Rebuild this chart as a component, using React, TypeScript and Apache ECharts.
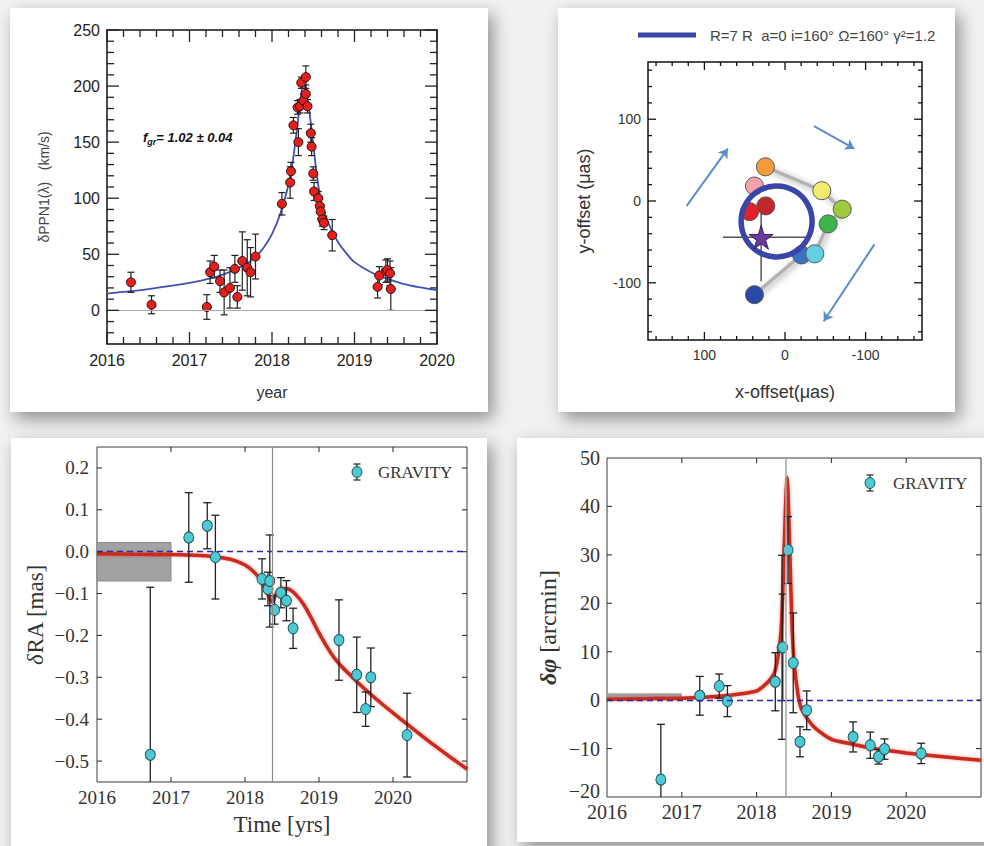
import React, { useEffect, useRef } from "react";
import * as echarts from "echarts";

// ---------------- Panel A (top-left): δPPN1(λ) vs year ----------------
const tlYears = [2016.29, 2016.54, 2017.21, 2017.25, 2017.3, 2017.37, 2017.42, 2017.49, 2017.55, 2017.58, 2017.64, 2017.7, 2017.74, 2017.8, 2018.12, 2018.22, 2018.23, 2018.26, 2018.32, 2018.31, 2018.34, 2018.355, 2018.38, 2018.41, 2018.41, 2018.43, 2018.47, 2018.48, 2018.5, 2018.51, 2018.56, 2018.58, 2018.59, 2018.61, 2018.63, 2018.73, 2019.28, 2019.3, 2019.38, 2019.4, 2019.43, 2019.44];
const tlValues = [25, 5, 3, 34, 39, 26, 16, 20, 37, 12, 44, 38, 34, 48, 95, 114, 124, 165, 150, 181, 182, 203, 187, 208, 193, 182, 158, 146, 122, 106, 100, 93, 88, 81, 78, 67, 21, 31, 35, 36, 33, 19];
const tlErrors = [9, 8, 11, 10, 10, 10, 20, 18, 12, 10, 26, 25, 22, 20, 10, 14, 8, 7, 12, 6, 6, 5, 6, 10, 8, 6, 8, 8, 6, 8, 6, 6, 6, 6, 6, 14, 10, 8, 10, 10, 11, 19];
const tlModelYears = [2016.0, 2016.5, 2017.0, 2017.3, 2017.5, 2017.7, 2017.8, 2017.9, 2018.0, 2018.1, 2018.2, 2018.25, 2018.3, 2018.35, 2018.38, 2018.4, 2018.45, 2018.5, 2018.55, 2018.6, 2018.7, 2018.8, 2018.9, 2019.0, 2019.2, 2019.4, 2019.6, 2019.8, 2020.0];
const tlModelValues = [15, 19, 24.5, 29.5, 34.5, 42, 47.5, 56, 68, 86, 112, 132, 160, 191, 201, 199, 179, 148, 117, 96, 75, 61, 51, 43, 34, 28, 23.5, 20.5, 18];
const tlXMajor = [2016, 2017, 2018, 2019, 2020];
const tlXMinor = [2016.2, 2016.4, 2016.6, 2016.8, 2017.2, 2017.4, 2017.6, 2017.8, 2018.2, 2018.4, 2018.6, 2018.8, 2019.2, 2019.4, 2019.6, 2019.8];
const tlYMajor = [0, 50, 100, 150, 200, 250];
const tlYMinor = [-20, -10, 10, 20, 30, 40, 60, 70, 80, 90, 110, 120, 130, 140, 160, 170, 180, 190, 210, 220, 230, 240];

// ---------------- Panel B (top-right): astrometric positions ----------------
const trX = [37.9, -20.5, -37, -53.5, -71, -45.7, 24.3, 37.9, 44, 23.8];
const trY = [-114.6, -65.9, -64.6, -28, -10, 12.6, 41.8, 18.3, -13, -6];
const trPathCount = 7;
const trColors = ["#2a48a6", "#3b72c4", "#62cfe2", "#3cb449", "#9ccb3b", "#f2ec6c", "#f39a3a", "#f4a2a9", "#e4202a", "#c1272d"];
const trStar = [29.6, -44.3];
const trStarXRange = [-30, 77];
const trStarYRange = [-98, -7];
const trRingCenter = [10.4, -25];
const trArrowFrom = [[122, -6], [-36, 91.5], [-111, -53]];
const trArrowTo = [[71, 64], [-86, 64], [-48, -147]];
const trMajor = [-100, 0, 100];
const trMinor = [-160, -140, -120, -80, -60, -40, -20, 20, 40, 60, 80, 120, 140, 160];

// ---------------- Panel C (bottom-left): δRA ----------------
const blYears = [2016.72, 2017.24, 2017.49, 2017.6, 2018.23, 2018.31, 2018.335, 2018.4, 2018.485, 2018.56, 2018.65, 2019.27, 2019.51, 2019.63, 2019.7, 2020.19];
const blValues = [-0.485, 0.034, 0.062, -0.013, -0.065, -0.089, -0.07, -0.139, -0.098, -0.117, -0.183, -0.211, -0.294, -0.376, -0.3, -0.438];
const blErrors = [0.4, 0.107, 0.055, 0.1, 0.048, 0.04, 0.11, 0.034, 0.036, 0.048, 0.048, 0.096, 0.09, 0.041, 0.07, 0.1];
const blModelYears = [2016.0, 2016.5, 2017.0, 2017.4, 2017.6, 2017.8, 2017.9, 2018.0, 2018.1, 2018.2, 2018.28, 2018.33, 2018.36, 2018.38, 2018.42, 2018.5, 2018.6, 2018.7, 2018.8, 2018.9, 2019.0, 2019.1, 2019.2, 2019.3, 2019.4, 2019.6, 2019.8, 2020.0, 2020.2, 2020.4, 2020.6, 2020.8, 2021.0];
const blModelValues = [-0.005, -0.006, -0.007, -0.009, -0.012, -0.018, -0.024, -0.032, -0.045, -0.065, -0.09, -0.11, -0.12, -0.118, -0.1, -0.088, -0.09, -0.105, -0.128, -0.16, -0.194, -0.225, -0.252, -0.273, -0.291, -0.325, -0.356, -0.385, -0.413, -0.441, -0.468, -0.494, -0.519];
const blBand = [2016, 2017, -0.07, 0.022];
const blPericenter = 2018.373;
const blXMajor = [2017, 2018, 2019, 2020];
const blYMajor = [-0.5, -0.4, -0.3, -0.2, -0.1, 0, 0.1, 0.2];

// ---------------- Panel D (bottom-right): δφ ----------------
const brYears = [2016.72, 2017.24, 2017.5, 2017.61, 2018.25, 2018.34, 2018.35, 2018.42, 2018.49, 2018.58, 2018.67, 2019.29, 2019.52, 2019.63, 2019.71, 2020.2];
const brValues = [-16.4, 0.9, 2.9, -0.2, 3.8, 10.9, 10.9, 31, 7.7, -8.6, -2.1, -7.6, -9.3, -11.7, -10.1, -11];
const brErrors = [11.4, 4, 2.5, 3.2, 6, 19, 11, 6.9, 10.3, 3.1, 4, 3.1, 2.7, 1.5, 2.1, 2.1];
const brModelYears = [2016.0, 2016.5, 2017.0, 2017.5, 2017.8, 2018.0, 2018.1, 2018.2, 2018.25, 2018.3, 2018.33, 2018.36, 2018.38, 2018.395, 2018.408, 2018.42, 2018.44, 2018.47, 2018.5, 2018.55, 2018.6, 2018.7, 2018.8, 2019.0, 2019.25, 2019.5, 2019.75, 2020.0, 2020.5, 2021.0];
const brModelValues = [0.2, 0.3, 0.4, 0.8, 1.3, 1.9, 3.0, 4.6, 6.2, 10.5, 15, 27, 37, 43, 46, 43, 33, 17, 8, 1.5, -1.8, -4.3, -6.0, -8.1, -9.0, -9.8, -10.4, -10.9, -11.7, -12.4];
const brBand = [2016, 2017, 0.1, 1.4];
const brPericenter = 2018.39;
const brXMajor = [2017, 2018, 2019, 2020];
const brYMajor = [-10, 0, 10, 20, 30, 40];

const SANS = "'Liberation Sans', Arial, sans-serif";
const SERIF = "'Liberation Serif', 'Times New Roman', serif";

const zip = (xs: number[], ys: number[]) => xs.map((x, i) => [x, ys[i]]);
const zip3 = (xs: number[], ys: number[], es: number[]) => xs.map((x, i) => [x, ys[i], es[i]]);
const minusFmt = (s: string) => s.replace("-", "\u2212");

function errBars(gi: number, data: number[][], color: string, lw: number, cap: number) {
  return {
    type: "custom",
    xAxisIndex: gi,
    yAxisIndex: gi,
    z: 3,
    clip: true,
    silent: true,
    data,
    renderItem: (params: any, api: any) => {
      const x = api.value(0);
      const y = api.value(1);
      const e = api.value(2);
      const p1 = api.coord([x, y + e]);
      const p2 = api.coord([x, y - e]);
      const st = { stroke: color, lineWidth: lw, fill: "none" };
      return {
        type: "group",
        children: [
          { type: "line", shape: { x1: p1[0], y1: p1[1], x2: p2[0], y2: p2[1] }, style: st },
          { type: "line", shape: { x1: p1[0] - cap / 2, y1: p1[1], x2: p1[0] + cap / 2, y2: p1[1] }, style: st },
          { type: "line", shape: { x1: p2[0] - cap / 2, y1: p2[1], x2: p2[0] + cap / 2, y2: p2[1] }, style: st },
        ],
      };
    },
  };
}

// inward tick marks on all four sides, positioned through the axes' own scales
function tickMarks(
  gi: number,
  xExt: number[],
  yExt: number[],
  xMaj: number[],
  xMin: number[],
  yMaj: number[],
  yMin: number[],
  lMaj: number,
  lMin: number,
  color: string,
  lw: number
) {
  const xMid = (xExt[0] + xExt[1]) / 2;
  const yMid = (yExt[0] + yExt[1]) / 2;
  return {
    type: "custom",
    xAxisIndex: gi,
    yAxisIndex: gi,
    z: 6,
    silent: true,
    clip: false,
    data: [[xMid, yMid]],
    renderItem: (params: any, api: any) => {
      const a = api.coord([xExt[0], yExt[0]]);
      const b = api.coord([xExt[1], yExt[1]]);
      const L = Math.min(a[0], b[0]), R = Math.max(a[0], b[0]);
      const T = Math.min(a[1], b[1]), B = Math.max(a[1], b[1]);
      const st = { stroke: color, lineWidth: lw, fill: "none" };
      const ch: any[] = [];
      const seg = (x1: number, y1: number, x2: number, y2: number) => {
        ch.push({ type: "line", shape: { x1, y1, x2, y2 }, style: st });
      };
      const vx = (v: number, len: number) => {
        const px = api.coord([v, yMid])[0];
        seg(px, B, px, B - len);
        seg(px, T, px, T + len);
      };
      const vy = (v: number, len: number) => {
        const py = api.coord([xMid, v])[1];
        seg(L, py, L + len, py);
        seg(R, py, R - len, py);
      };
      xMaj.forEach((v) => vx(v, lMaj));
      xMin.forEach((v) => vx(v, lMin));
      yMaj.forEach((v) => vy(v, lMaj));
      yMin.forEach((v) => vy(v, lMin));
      return { type: "group", children: ch };
    },
  };
}

function buildOption(): any {
  const grids = [
    { left: 107, top: 30, width: 330, height: 314, show: true, borderColor: "#111", borderWidth: 1.5, backgroundColor: "transparent" },
    { left: 648, top: 62, width: 274, height: 278, show: true, borderColor: "#111", borderWidth: 1.5, backgroundColor: "transparent" },
    { left: 97, top: 447, width: 370, height: 335, show: true, borderColor: "#3a3a3a", borderWidth: 1, backgroundColor: "transparent" },
    { left: 607, top: 458, width: 375, height: 339, show: true, borderColor: "#3a3a3a", borderWidth: 1, backgroundColor: "transparent" },
  ];
  const hidden = { axisLine: { show: false }, axisTick: { show: false }, splitLine: { show: false } };

  const xAxis = [
    {
      gridIndex: 0, type: "value", min: 2016, max: 2020, interval: 1, ...hidden,
      axisLabel: { color: "#222", fontSize: 16, fontFamily: SANS, margin: 8, formatter: (v: number) => String(v) },
      name: "year", nameLocation: "middle", nameGap: 40,
      nameTextStyle: { color: "#333", fontSize: 16, fontFamily: SANS },
    },
    {
      gridIndex: 1, type: "value", min: -170, max: 170, interval: 10, inverse: true, ...hidden,
      axisLabel: {
        color: "#333", fontSize: 14, fontFamily: SANS, margin: 8,
        formatter: (v: number) => (Math.round(v) % 100 === 0 ? String(Math.round(v)) : ""),
      },
      name: "x-offset(\u03bcas)", nameLocation: "middle", nameGap: 43,
      nameTextStyle: { color: "#333", fontSize: 18, fontFamily: SANS },
    },
    {
      gridIndex: 2, type: "value", min: 2016, max: 2021, interval: 1, ...hidden,
      axisLabel: {
        color: "#333", fontSize: 19, fontFamily: SERIF, margin: 6,
        formatter: (v: number) => (v === 2021 ? "" : String(v)),
      },
      name: "Time [yrs]", nameLocation: "middle", nameGap: 31,
      nameTextStyle: { color: "#333", fontSize: 23, fontFamily: SERIF },
    },
    {
      gridIndex: 3, type: "value", min: 2016, max: 2021, interval: 1, ...hidden,
      axisLabel: {
        color: "#333", fontSize: 20, fontFamily: SERIF, margin: 5,
        formatter: (v: number) => (v === 2021 ? "" : String(v)),
      },
    },
  ];

  const yAxis = [
    {
      gridIndex: 0, type: "value", min: -30, max: 250, interval: 10, ...hidden,
      axisLabel: {
        color: "#222", fontSize: 16, fontFamily: SANS, margin: 7,
        formatter: (v: number) => (Math.round(v) % 50 === 0 ? String(Math.round(v)) : ""),
      },
      name: "\u03b4PPN1(\u03bb)   (km/s)", nameLocation: "middle", nameGap: 56,
      nameTextStyle: { color: "#444", fontSize: 14, fontFamily: SANS },
    },
    {
      gridIndex: 1, type: "value", min: -170, max: 170, interval: 10, ...hidden,
      axisLabel: {
        color: "#333", fontSize: 14, fontFamily: SANS, margin: 7,
        formatter: (v: number) => (Math.round(v) % 100 === 0 ? String(Math.round(v)) : ""),
      },
      name: "y-offset (\u03bcas)", nameLocation: "middle", nameGap: 55,
      nameTextStyle: { color: "#333", fontSize: 18, fontFamily: SANS },
    },
    {
      gridIndex: 2, type: "value", min: -0.55, max: 0.25, interval: 0.05, ...hidden,
      axisLabel: {
        color: "#333", fontSize: 19, fontFamily: SERIF, margin: 8,
        formatter: (v: number) => {
          const r = Math.round(v * 10);
          if (Math.abs(v * 10 - r) > 1e-6) return "";
          return minusFmt((r / 10).toFixed(1));
        },
      },
      name: "{i|\u03b4}RA [mas]", nameLocation: "middle", nameGap: 50,
      nameTextStyle: {
        color: "#333", fontSize: 23, fontFamily: SERIF,
        rich: { i: { fontStyle: "italic", fontSize: 23, fontFamily: SERIF, color: "#333" } },
      },
    },
    {
      gridIndex: 3, type: "value", min: -20, max: 50, interval: 10, ...hidden,
      axisLabel: {
        color: "#333", fontSize: 20, fontFamily: SERIF, margin: 7,
        formatter: (v: number) => (v === -20 ? "{lo|\u221220}" : minusFmt(String(Math.round(v)))),
        rich: { lo: { fontSize: 20, fontFamily: SERIF, color: "#333", padding: [0, 0, 12, 0] } },
      },
      name: "{b|\u03b4\u03c6} [arcmin]", nameLocation: "middle", nameGap: 47,
      nameTextStyle: {
        color: "#333", fontSize: 24, fontFamily: SERIF,
        rich: { b: { fontWeight: "bold", fontStyle: "italic", fontSize: 24, fontFamily: SERIF, color: "#333" } },
      },
    },
  ];

  const series: any[] = [];

  // ---- Panel A
  series.push({
    type: "line", xAxisIndex: 0, yAxisIndex: 0, data: zip(tlModelYears, tlModelValues),
    smooth: 0.3, symbol: "none", z: 2,
    lineStyle: { color: "#3f51b5", width: 1.8 },
    markLine: {
      silent: true, symbol: "none", label: { show: false },
      lineStyle: { color: "#aaaaaa", width: 1, type: "solid" },
      data: [{ yAxis: 0 }],
    },
  });
  series.push(errBars(0, zip3(tlYears, tlValues, tlErrors), "#222", 1.2, 7));
  series.push({
    type: "scatter", xAxisIndex: 0, yAxisIndex: 0, data: zip(tlYears, tlValues), z: 4,
    symbol: "circle", symbolSize: 9,
    itemStyle: { color: "#e3201c", borderColor: "#2a1010", borderWidth: 1, opacity: 1 },
  });
  series.push(tickMarks(0, [2016, 2020], [-30, 250], tlXMajor, tlXMinor, tlYMajor, tlYMinor, 12, 7, "#222", 1.3));

  // ---- Panel B
  series.push({
    type: "lines", coordinateSystem: "cartesian2d", xAxisIndex: 1, yAxisIndex: 1, z: 2,
    data: trArrowFrom.map((f, i) => ({ coords: [f, trArrowTo[i]] })),
    symbol: ["none", "arrow"], symbolSize: 9,
    lineStyle: { color: "#5a8ec9", width: 2, opacity: 1, curveness: 0 },
  });
  series.push({
    type: "line", xAxisIndex: 1, yAxisIndex: 1, z: 2,
    data: zip(trX.slice(0, trPathCount), trY.slice(0, trPathCount)),
    symbol: "none",
    lineStyle: { color: "#b3b3b3", width: 3.5, shadowBlur: 6, shadowColor: "rgba(0,0,0,0.35)", shadowOffsetX: 2, shadowOffsetY: 2 },
  });
  series.push({
    type: "custom", xAxisIndex: 1, yAxisIndex: 1, z: 3, silent: true,
    data: [[trStar[0], trStar[1], trStarXRange[0], trStarXRange[1], trStarYRange[0], trStarYRange[1]]],
    renderItem: (params: any, api: any) => {
      const x = api.value(0), y = api.value(1);
      const a = api.coord([api.value(2), y]);
      const b = api.coord([api.value(3), y]);
      const c = api.coord([x, api.value(4)]);
      const d = api.coord([x, api.value(5)]);
      const st = { stroke: "#555", lineWidth: 1.5, fill: "none" };
      return {
        type: "group",
        children: [
          { type: "line", shape: { x1: a[0], y1: a[1], x2: b[0], y2: b[1] }, style: st },
          { type: "line", shape: { x1: c[0], y1: c[1], x2: d[0], y2: d[1] }, style: st },
        ],
      };
    },
  });
  series.push({
    type: "scatter", xAxisIndex: 1, yAxisIndex: 1, z: 4, symbol: "circle", symbolSize: 18,
    data: trX.map((x, i) => ({ value: [x, trY[i]], itemStyle: { color: trColors[i] } })),
    itemStyle: { borderColor: "#5a5a5a", borderWidth: 1, opacity: 1 },
  });
  series.push({
    type: "scatter", xAxisIndex: 1, yAxisIndex: 1, z: 5, symbol: "circle", symbolSize: 71,
    data: [trRingCenter],
    itemStyle: { color: "rgba(0,0,0,0)", borderColor: "#3946a8", borderWidth: 5.5, opacity: 1 },
  });
  series.push({
    type: "scatter", xAxisIndex: 1, yAxisIndex: 1, z: 6, symbolSize: 24,
    symbol: "path://M50,0 L61,35 L98,35 L68,57 L79,91 L50,70 L21,91 L32,57 L2,35 L39,35 Z",
    data: [trStar],
    itemStyle: { color: "#6b3a9e", borderColor: "#3a1f5a", borderWidth: 1, opacity: 1 },
  });
  series.push(tickMarks(1, [-170, 170], [-170, 170], trMajor, trMinor, trMajor, trMinor, 8, 4, "#111", 1.3));

  // ---- Panel C
  series.push({
    type: "line", xAxisIndex: 2, yAxisIndex: 2, data: zip(blModelYears, blModelValues),
    smooth: 0.25, symbol: "none", z: 2,
    lineStyle: { color: "#cc2a1c", width: 3.5, shadowBlur: 3, shadowColor: "rgba(204,42,28,0.5)" },
    markArea: {
      silent: true,
      itemStyle: { color: "#a2a2a2", borderColor: "#8a8a8a", borderWidth: 1 },
      data: [[{ xAxis: blBand[0], yAxis: blBand[3] }, { xAxis: blBand[1], yAxis: blBand[2] }]],
    },
    markLine: {
      silent: true, symbol: "none", label: { show: false },
      data: [
        { yAxis: 0, lineStyle: { color: "#2b2ba6", width: 1.3, type: [6, 4] } },
        { xAxis: blPericenter, lineStyle: { color: "#8a8a8a", width: 1.2, type: "solid" } },
      ],
    },
  });
  series.push(errBars(2, zip3(blYears, blValues, blErrors), "#222", 1.3, 8));
  series.push({
    type: "scatter", xAxisIndex: 2, yAxisIndex: 2, data: zip(blYears, blValues), z: 4,
    symbol: "circle", symbolSize: [10, 11],
    itemStyle: { color: "#4ec8d2", borderColor: "#1c5a62", borderWidth: 1, opacity: 1 },
  });
  series.push(tickMarks(2, [2016, 2021], [-0.55, 0.25], blXMajor, [], blYMajor, [], 5, 0, "#333", 1.1));

  // ---- Panel D
  series.push({
    type: "line", xAxisIndex: 3, yAxisIndex: 3, data: zip(brModelYears, brModelValues),
    smooth: 0.25, symbol: "none", z: 2,
    lineStyle: { color: "#cc2a1c", width: 3.5, shadowBlur: 3, shadowColor: "rgba(204,42,28,0.5)" },
    markArea: {
      silent: true,
      itemStyle: { color: "#a2a2a2" },
      data: [[{ xAxis: brBand[0], yAxis: brBand[3] }, { xAxis: brBand[1], yAxis: brBand[2] }]],
    },
    markLine: {
      silent: true, symbol: "none", label: { show: false },
      data: [
        { yAxis: 0, lineStyle: { color: "#2b2ba6", width: 1.3, type: [6, 4] } },
        { xAxis: brPericenter, lineStyle: { color: "#aaaaaa", width: 1.6, type: "solid" } },
      ],
    },
  });
  series.push(errBars(3, zip3(brYears, brValues, brErrors), "#222", 1.3, 8));
  series.push({
    type: "scatter", xAxisIndex: 3, yAxisIndex: 3, data: zip(brYears, brValues), z: 4,
    symbol: "circle", symbolSize: [10, 11],
    itemStyle: { color: "#4ec8d2", borderColor: "#1c5a62", borderWidth: 1, opacity: 1 },
  });
  series.push(tickMarks(3, [2016, 2021], [-20, 50], brXMajor, [], brYMajor, [], 5, 0, "#333", 1.1));

  const legendGlyph = (cx: number, cy: number) => [
    { type: "line", z: 20, shape: { x1: cx, y1: cy - 8, x2: cx, y2: cy + 8 }, style: { stroke: "#222", lineWidth: 1.2 } },
    { type: "line", z: 20, shape: { x1: cx - 3.5, y1: cy - 8, x2: cx + 3.5, y2: cy - 8 }, style: { stroke: "#222", lineWidth: 1.2 } },
    { type: "line", z: 20, shape: { x1: cx - 3.5, y1: cy + 8, x2: cx + 3.5, y2: cy + 8 }, style: { stroke: "#222", lineWidth: 1.2 } },
    { type: "ellipse", z: 21, shape: { cx, cy, rx: 5, ry: 5.5 }, style: { fill: "#4ec8d2", stroke: "#1c5a62", lineWidth: 1 } },
  ];

  const graphic = [
    {
      type: "text", z: 20, x: 143, y: 137,
      style: {
        text: "{a|f}{b|gr}{a|= 1.02 \u00b1 0.04}",
        verticalAlign: "middle",
        rich: {
          a: { fontFamily: SANS, fontSize: 13, fontWeight: "bold", fontStyle: "italic", fill: "#111", lineHeight: 18, verticalAlign: "middle" },
          b: { fontFamily: SANS, fontSize: 9, fontWeight: "bold", fontStyle: "italic", fill: "#111", lineHeight: 9, verticalAlign: "bottom" },
        },
      },
    },
    { type: "line", z: 20, shape: { x1: 638, y1: 35, x2: 696, y2: 35 }, style: { stroke: "#3946a8", lineWidth: 5 } },
    {
      type: "text", z: 20, x: 710, y: 35,
      style: { text: "R=7 R  a=0 i=160\u00b0 \u03a9=160\u00b0 \u03b3\u00b2=1.2", fontFamily: SANS, fontSize: 15, fill: "#444", verticalAlign: "middle" },
    },
    ...legendGlyph(357, 472),
    { type: "text", z: 20, x: 378, y: 472, style: { text: "GRAVITY", fontFamily: SERIF, fontSize: 17, fill: "#333", verticalAlign: "middle" } },
    ...legendGlyph(870, 483),
    { type: "text", z: 20, x: 893, y: 483, style: { text: "GRAVITY", fontFamily: SERIF, fontSize: 17, fill: "#333", verticalAlign: "middle" } },
  ];

  return { animation: false, backgroundColor: "transparent", grid: grids, xAxis, yAxis, series, graphic };
}

const cards = [
  { left: 10, top: 8, width: 478, height: 404 },
  { left: 558, top: 8, width: 397, height: 404 },
  { left: 11, top: 438, width: 476, height: 430 },
  { left: 517, top: 438, width: 480, height: 404 },
];

export default function App() {
  const ref = useRef<HTMLDivElement>(null);
  useEffect(() => {
    if (!ref.current) return;
    const chart = echarts.init(ref.current, undefined, { renderer: "svg" });
    chart.setOption(buildOption());
    return () => chart.dispose();
  }, []);
  return (
    <div style={{ position: "absolute", left: 0, top: 0, width: 984, height: 846, overflow: "hidden", background: "#f1f1f1" }}>
      {cards.map((c, i) => (
        <div
          key={i}
          style={{
            position: "absolute", left: c.left, top: c.top, width: c.width, height: c.height,
            background: "#ffffff", boxShadow: "5px 7px 16px rgba(0,0,0,0.4)",
          }}
        />
      ))}
      <div ref={ref} style={{ position: "absolute", left: 0, top: 0, width: 984, height: 846 }} />
    </div>
  );
}
